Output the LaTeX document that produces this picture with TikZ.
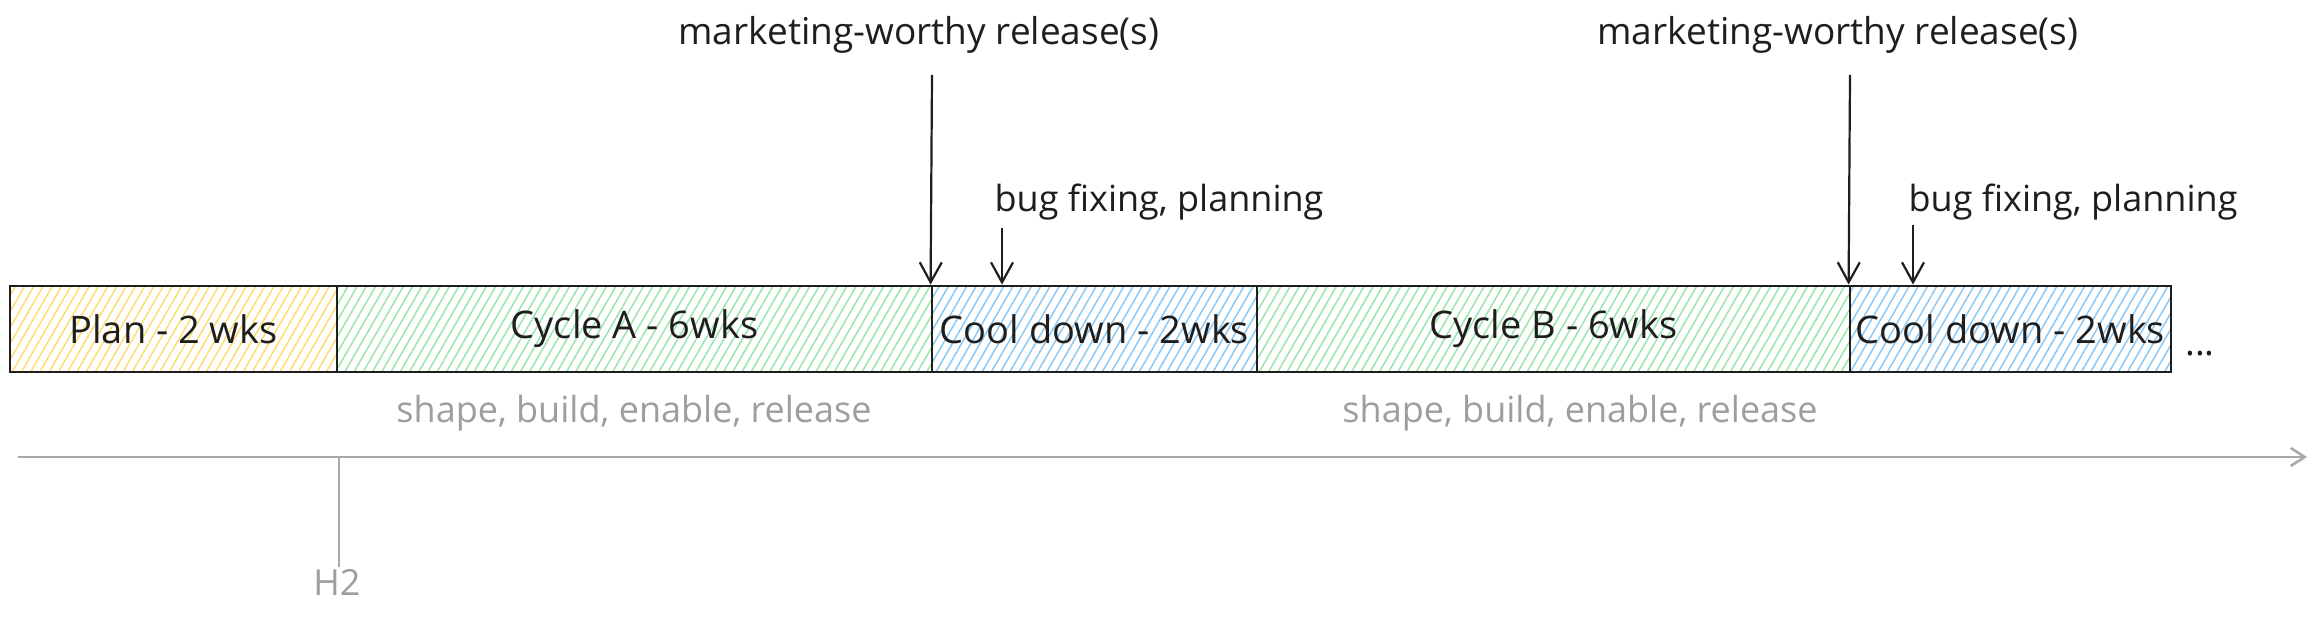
\documentclass[tikz,border=0pt]{standalone}
\usepackage{fontspec}
\setmainfont{Open Sans}
\usetikzlibrary{patterns.meta,arrows.meta}
\definecolor{ink}{HTML}{1E1E1E}
\definecolor{hyel}{HTML}{FFDB70}
\definecolor{hgrn}{HTML}{9AE6A8}
\definecolor{hblu}{HTML}{8CC8F5}
\definecolor{gtxt}{HTML}{9E9E9E}
\definecolor{gline}{HTML}{A8A8A8}
\begin{document}
\begin{tikzpicture}[x=1pt,y=-1pt,
  phase/.style={draw=ink, line width=2.8pt, inner sep=0pt, minimum height=86pt,
    font=\fontsize{38}{44}\selectfont, text=ink},
  hatchY/.style={pattern={Lines[angle=60,distance=8pt,line width=1.5pt]}, pattern color=hyel},
  hatchG/.style={pattern={Lines[angle=60,distance=8pt,line width=1.5pt]}, pattern color=hgrn},
  hatchB/.style={pattern={Lines[angle=60,distance=8pt,line width=1.5pt]}, pattern color=hblu},
  lbl/.style={font=\fontsize{37}{44}\selectfont, text=ink, anchor=base, inner sep=2pt},
  blbl/.style={font=\fontsize{36}{44}\selectfont, text=ink, anchor=base, inner sep=2pt},
  glbl/.style={font=\fontsize{36}{44}\selectfont, text=gtxt, anchor=base, inner sep=2pt},
  arr/.style={draw=ink, line width=2.2pt, -{Straight Barb[length=20pt,width=22pt,line width=2.2pt]}},
  axisline/.style={draw=gline, line width=2.5pt, -{Straight Barb[length=14pt,width=18pt,line width=2.5pt]}},
]
\useasboundingbox (0,0) rectangle (2316,617);

% phases
\node[phase, hatchY, minimum width=327pt] (plan) at (173.5,329) {Plan - 2 wks};
\node[phase, hatchG, minimum width=595pt] (cycA) at (634.5,329) {Cycle A - 6wks};
\node[phase, hatchB, minimum width=325pt] (coolA) at (1094.5,329) {Cool down - 2wks};
\node[phase, hatchG, minimum width=593pt] (cycB) at (1553.5,329) {Cycle B - 6wks};
\node[phase, hatchB, minimum width=321pt] (coolB) at (2010.5,329) {Cool down - 2wks};
\node[lbl] (dots) at (2200,356) {...};

% labels above
\node[lbl] (mA) at (919,45) {marketing-worthy release(s)};
\node[lbl] (mB) at (1838,45) {marketing-worthy release(s)};
\node[blbl] (bA) at (1159,212) {bug fixing, planning};
\node[blbl] (bB) at (2073,212) {bug fixing, planning};

% labels below
\node[glbl] (sA) at (634,423) {shape, build, enable, release};
\node[glbl] (sB) at (1580,423) {shape, build, enable, release};
\node[glbl] (h2) at (337,595) {H2};

% arrows
\coordinate (mAs) at (932,75);
\coordinate (mBs) at (1850,75);
\coordinate (bAs) at (1002,228);
\coordinate (bBs) at (1913,225);
\draw[arr] (mAs) -- (coolA.north west);
\draw[arr] (mBs) -- (coolB.north west);
\draw[arr] (bAs) -- (bAs |- coolA.north);
\draw[arr] (bBs) -- (bBs |- coolB.north);

% time axis
\coordinate (ax0) at (18,457);
\coordinate (ax1) at (2307,457);
\coordinate (tk) at (339,457);
\draw[axisline] (ax0) -- (ax1);
\draw[draw=gline, line width=2.5pt] (tk) -- (tk |- h2.north);
\end{tikzpicture}
\end{document}
